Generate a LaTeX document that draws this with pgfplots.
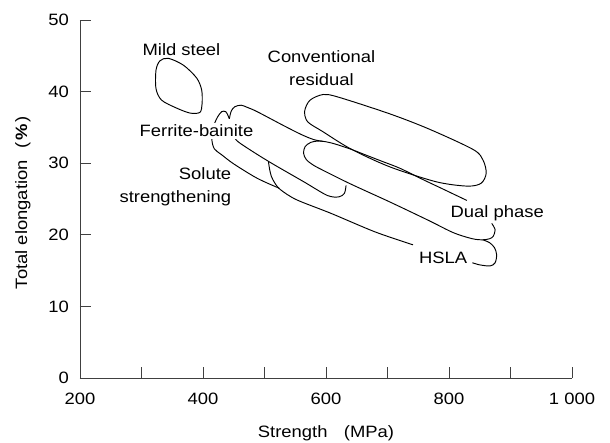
\documentclass[border=0pt]{standalone}
\usepackage{fontspec}
\setmainfont{Liberation Sans}[FakeStretch=1.12]
\usepackage{pgfplots}
\pgfplotsset{compat=1.18}
\begin{document}
\fontsize{16.5}{23}\selectfont
\begin{tikzpicture}
\begin{axis}[
 scale only axis, width=492bp, height=358bp,
 xmin=200,xmax=1000,ymin=0,ymax=50,
 enlargelimits=false,
 axis x line=bottom, axis y line=left,
 axis line style={-, line width=0.8pt, black!75},
 tick align=inside, major tick length=11bp,
 tick style={black!75, line width=0.8pt},
 xtick={200,300,...,1000},
 xticklabels={200,,400,,600,,800,,1 000},
 ytick={0,10,...,50}, yticklabels={0,10,20,30,40,50},
 xticklabel style={yshift=-9bp},
 yticklabel style={xshift=-5.5bp},
 xlabel={Strength\hspace{1em}(MPa)},
 ylabel={Total elongation\hspace{0.7em}(\hspace{0.12em}\textbf{\%}\hspace{0.12em})},
 xlabel style={at={(axis description cs:0.5,-0.1536)}, anchor=center},
 ylabel style={at={(axis description cs:-0.1159,0.49)}, anchor=center},
 clip=false,
 curve/.style={black, line width=0.95bp, mark=none},
]
% Mild steel
\addplot[curve, smooth cycle] coordinates {(343.6,44.65) (368,43.7) (389.7,41.9) (397.9,40.2) (398.5,38.3) (395,37.1) (379,37.0) (357,37.7) (332.8,38.8) (323.6,40.4) (323.6,43.0) (330,44.3)};
% Conventional residual
\addplot[curve, smooth cycle] coordinates {(595.8,39.6) (621.2,39.2) (703.5,36.9) (766.8,34.8) (839.6,31.9) (855.5,30.4) (860.5,28.6) (852.3,27.2) (830,26.8) (779.5,27.4) (703.5,29.5) (640.2,32.0) (595,34.4) (570,35.8) (565.4,37.3) (574,38.8)};
% Dual phase
\addplot[curve, smooth] coordinates {(829,24.8) (790,26.4) (758,27.7) (720,29.3) (690,30.3) (660,31.3) (639,32.0) (610,32.8) (590,33.1) (575,32.9) (566,32.3) (563.5,31.4) (568,30.5) (580,29.7) (600,28.8) (640,27.1) (703.5,24.6) (767,22.0) (807,20.3) (838,19.45) (855,19.3) (866,19.45) (872,19.8) (875,20.7) (869.5,21.6)};
% HSLA hook
\addplot[curve, smooth] coordinates {(855,19.3) (866,18.9) (874,18.2) (877.5,17.2) (875,16.1) (867,15.65) (850,15.8) (838,16.1)};
% Solute strengthening
\addplot[curve, smooth] coordinates {(524,26.5) (488,27.9) (450,29.9) (430,31.2) (418.5,32.0) (414.5,33.2) (415.5,34.6) (419,35.6) (424,36.5) (430.4,37.2) (437,37.2) (441,36.6) (442.8,36.2)};
% Ferrite-bainite upper
\addplot[curve, smooth] coordinates {(442.8,36.2) (446,37.3) (452,37.9) (462,38.1) (472,37.8) (488,37.2) (530,35.3) (560,34.0) (580,33.3) (595,33.05)};
% Ferrite-bainite lower
\addplot[curve, smooth] coordinates {(450,33.8) (457,33.0) (485,31.4) (513.5,29.9) (564,27.4) (602,25.5) (621,25.3) (630,25.8) (632.6,26.9)};
% HSLA left end and lower edge
\addplot[curve, smooth] coordinates {(506.5,30.2) (508,29.3) (511,28.2) (517,27.2) (526,26.3) (552,24.9) (608,23.0) (680,20.4) (741.5,18.6)};
\node at (axis cs:365,45.9) {Mild steel};
\node[align=center] at (axis cs:592.6,43.3) {Conventional\\residual};
\node[fill=white, inner sep=1.5bp] at (axis cs:389.4,34.5) {Ferrite-bainite};
\node[align=right, anchor=east] at (axis cs:455,26.65) {Solute\\strengthening};
\node at (axis cs:878.4,23.0) {Dual phase};
\node at (axis cs:790.5,16.85) {HSLA};
\end{axis}
\pgfresetboundingbox
\path[use as bounding box] (-80bp,-65bp) rectangle (530bp,378bp);
\end{tikzpicture}
\end{document}
